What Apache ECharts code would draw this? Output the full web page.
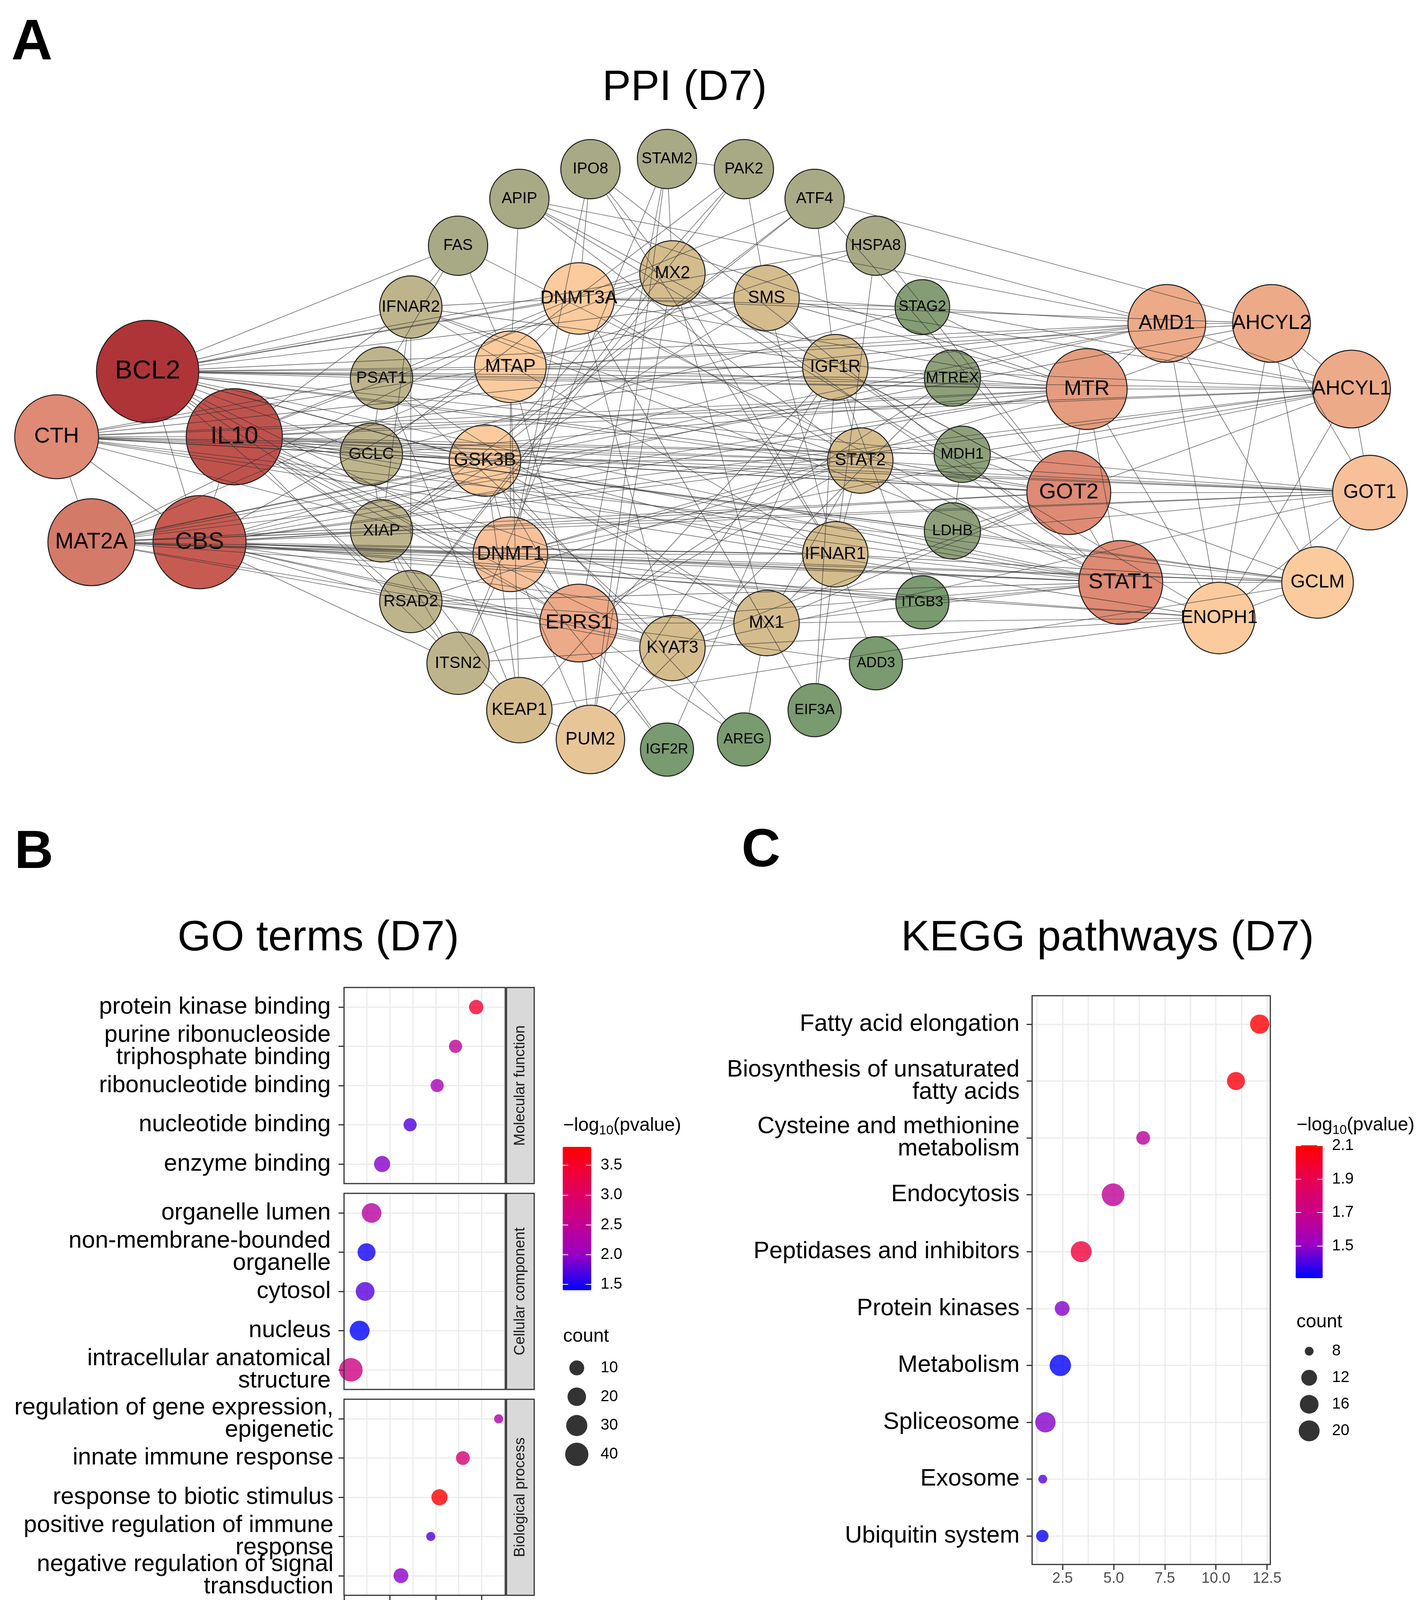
<!DOCTYPE html>
<html>
<head>
<meta charset="utf-8">
<script src="https://cdn.jsdelivr.net/npm/echarts@6/dist/echarts.min.js"></script>
<style>html,body{margin:0;padding:0;background:#fff}#c{width:3644px;height:4179px}</style>
</head>
<body>
<div id="c"></div>
<script>
// ---------------- DATA ----------------
// PPI network (node layout coordinates, node score = hub ranking)
const geneNames = ['BCL2','IL10','CTH','MAT2A','CBS','PSAT1','IFNAR2','FAS','APIP','IPO8','STAM2','PAK2','ATF4','HSPA8','STAG2','MTREX','MDH1','LDHB','ITGB3','ADD3','EIF3A','AREG','IGF2R','PUM2','KEAP1','ITSN2','RSAD2','XIAP','GCLC','MTAP','DNMT3A','MX2','SMS','IGF1R','STAT2','IFNAR1','MX1','KYAT3','EPRS1','DNMT1','GSK3B','AMD1','AHCYL2','AHCYL1','MTR','GOT2','GOT1','STAT1','GCLM','ENOPH1'];
const geneX = [378,600,145,234,511,977,1052,1173,1330,1512,1708,1905,2086,2243,2362,2439,2464,2439,2362,2243,2086,1905,1708,1512,1330,1173,1052,977,951,1307,1482,1722,1963,2139,2203,2139,1963,1722,1482,1307,1242,2988,3256,3461,2783,2737,3508,2870,3374,3122];
const geneY = [951,1118,1118,1388,1388,968,786,629,509,433,407,433,509,629,786,968,1163,1359,1542,1698,1818,1893,1919,1893,1818,1698,1540,1359,1163,939,764,700,763,940,1179,1419,1595,1659,1595,1419,1179,828,828,996,996,1261,1261,1491,1491,1582];
const geneScore = [18,16,12,13,15,5,5,4,4,4,4,4,4,4,2.5,3,3,3,2,2,2,2,2,7,6,5,5,5,5,8,8,6,6,6,6,6,6,6,10,9,8,10,10,10,11,12,9,12,8,8];
const edges = [
['BCL2','IL10'],['BCL2','CBS'],['BCL2','FAS'],['BCL2','IFNAR2'],['BCL2','PSAT1'],['BCL2','DNMT3A'],['BCL2','MTAP'],['BCL2','MX2'],['BCL2','SMS'],['BCL2','IGF1R'],['BCL2','STAT2'],['BCL2','GSK3B'],['BCL2','GCLC'],['BCL2','XIAP'],['BCL2','DNMT1'],['BCL2','EPRS1'],['BCL2','STAT1'],['BCL2','GOT2'],['BCL2','MTR'],['BCL2','AMD1'],['BCL2','AHCYL1'],['BCL2','MDH1'],['BCL2','IFNAR1'],['BCL2','MTREX'],['BCL2','RSAD2'],['BCL2','HSPA8'],
['IL10','CBS'],['IL10','CTH'],['IL10','GCLC'],['IL10','GSK3B'],['IL10','STAT2'],['IL10','STAT1'],['IL10','GOT2'],['IL10','MTR'],['IL10','AHCYL1'],['IL10','GOT1'],['IL10','IFNAR1'],['IL10','IFNAR2'],['IL10','DNMT1'],['IL10','MX1'],['IL10','XIAP'],['IL10','EPRS1'],['IL10','MDH1'],['IL10','LDHB'],['IL10','IGF1R'],['IL10','MX2'],['IL10','KYAT3'],['IL10','ITSN2'],['IL10','PSAT1'],
['CTH','MAT2A'],['CTH','CBS'],['CTH','GCLC'],['CTH','GSK3B'],['CTH','STAT2'],['CTH','MTR'],['CTH','GOT2'],['CTH','GOT1'],['CTH','GCLM'],['CTH','ENOPH1'],['CTH','AHCYL1'],['CTH','AMD1'],['CTH','STAT1'],['CTH','MDH1'],['CTH','DNMT1'],['CTH','MTAP'],['CTH','PSAT1'],
['MAT2A','CBS'],['MAT2A','XIAP'],['MAT2A','DNMT1'],['MAT2A','MTR'],['MAT2A','AHCYL1'],['MAT2A','AHCYL2'],['MAT2A','AMD1'],['MAT2A','GOT2'],['MAT2A','GOT1'],['MAT2A','STAT1'],['MAT2A','ENOPH1'],['MAT2A','GCLM'],['MAT2A','MTAP'],['MAT2A','DNMT3A'],['MAT2A','GSK3B'],['MAT2A','IFNAR1'],['MAT2A','EPRS1'],['MAT2A','KYAT3'],
['CBS','XIAP'],['CBS','DNMT1'],['CBS','EPRS1'],['CBS','STAT1'],['CBS','GOT2'],['CBS','MTR'],['CBS','GCLM'],['CBS','ENOPH1'],['CBS','AHCYL1'],['CBS','AMD1'],['CBS','GOT1'],['CBS','IFNAR1'],['CBS','MX1'],['CBS','GSK3B'],['CBS','MTAP'],['CBS','RSAD2'],['CBS','ITSN2'],['CBS','KYAT3'],['CBS','ITGB3'],['CBS','STAT2'],
['MTR','AMD1'],['MTR','AHCYL2'],['MTR','AHCYL1'],['MTR','GOT2'],['MTR','STAT1'],['MTR','ENOPH1'],['MTR','MTAP'],['MTR','DNMT1'],['MTR','DNMT3A'],['MTR','SMS'],['MTR','MTREX'],['MTR','STAG2'],['MTR','GCLC'],['MTR','PSAT1'],
['GOT2','GOT1'],['GOT2','STAT1'],['GOT2','MDH1'],['GOT2','LDHB'],['GOT2','GCLM'],['GOT2','AHCYL1'],['GOT2','KYAT3'],['GOT2','PSAT1'],['GOT2','GCLC'],['GOT2','IGF1R'],['GOT2','MX1'],
['STAT1','STAT2'],['STAT1','IFNAR1'],['STAT1','IFNAR2'],['STAT1','MX1'],['STAT1','MX2'],['STAT1','RSAD2'],['STAT1','ENOPH1'],['STAT1','GCLM'],['STAT1','GSK3B'],['STAT1','EPRS1'],['STAT1','ITGB3'],['STAT1','DNMT1'],
['AMD1','AHCYL2'],['AMD1','AHCYL1'],['AMD1','SMS'],['AMD1','MTAP'],['AMD1','ENOPH1'],['AMD1','HSPA8'],['AMD1','IGF1R'],['AMD1','GCLM'],
['AHCYL2','AHCYL1'],['AHCYL2','ENOPH1'],['AHCYL2','GOT1'],['AHCYL2','DNMT3A'],['AHCYL2','MTAP'],['AHCYL2','ATF4'],['AHCYL2','GCLM'],
['AHCYL1','GOT1'],['AHCYL1','ENOPH1'],['AHCYL1','DNMT1'],['AHCYL1','IGF1R'],['AHCYL1','MDH1'],['AHCYL1','SMS'],['AHCYL1','STAG2'],
['GOT1','GCLM'],['GOT1','MDH1'],['GOT1','LDHB'],['GOT1','KYAT3'],['GOT1','ENOPH1'],['GOT1','STAT2'],['GOT1','GCLC'],
['GCLM','GCLC'],['GCLM','KEAP1'],['GCLM','ENOPH1'],['GCLM','IFNAR1'],['GCLM','LDHB'],
['ENOPH1','APIP'],['ENOPH1','ADD3'],['ENOPH1','KYAT3'],['ENOPH1','MX1'],
['GSK3B','DNMT1'],['GSK3B','IGF1R'],['GSK3B','XIAP'],['GSK3B','STAT2'],['GSK3B','MX1'],['GSK3B','KEAP1'],['GSK3B','PAK2'],['GSK3B','ATF4'],['GSK3B','EPRS1'],
['DNMT1','DNMT3A'],['DNMT1','MTAP'],['DNMT1','EPRS1'],['DNMT1','PUM2'],['DNMT1','IFNAR1'],['DNMT1','STAT2'],['DNMT1','ITSN2'],['DNMT1','IPO8'],
['DNMT3A','MTAP'],['DNMT3A','MX2'],['DNMT3A','SMS'],['DNMT3A','IPO8'],['DNMT3A','IFNAR2'],['DNMT3A','STAT2'],['DNMT3A','EIF3A'],['DNMT3A','KYAT3'],
['MTAP','SMS'],['MTAP','APIP'],['MTAP','FAS'],['MTAP','IGF1R'],['MTAP','EPRS1'],['MTAP','KEAP1'],
['EPRS1','PUM2'],['EPRS1','KYAT3'],['EPRS1','IGF2R'],['EPRS1','ITSN2'],['EPRS1','RSAD2'],['EPRS1','MX1'],['EPRS1','STAT2'],['EPRS1','AREG'],
['PUM2','KEAP1'],['PUM2','IGF1R'],['PUM2','MX2'],['PUM2','STAM2'],
['MX2','MX1'],['MX2','STAM2'],['MX2','IFNAR1'],['MX2','RSAD2'],['MX2','IPO8'],
['SMS','IGF1R'],['SMS','PAK2'],['SMS','IFNAR1'],['SMS','XIAP'],
['IGF1R','STAT2'],['IGF1R','ATF4'],['IGF1R','ITGB3'],['IGF1R','KEAP1'],['IGF1R','MDH1'],
['STAT2','IFNAR1'],['STAT2','IFNAR2'],['STAT2','MX1'],['STAT2','RSAD2'],['STAT2','LDHB'],
['IFNAR1','IFNAR2'],['IFNAR1','MX1'],['IFNAR1','EIF3A'],['IFNAR1','ADD3'],
['MX1','RSAD2'],['MX1','AREG'],['MX1','PSAT1'],
['KYAT3','PSAT1'],['KYAT3','ITSN2'],
['KEAP1','XIAP'],['KEAP1','ITSN2'],['KEAP1','PSAT1'],
['PSAT1','GCLC'],['PSAT1','FAS'],
['IFNAR2','FAS'],['IFNAR2','RSAD2'],['IFNAR2','XIAP'],
['GCLC','XIAP'],['GCLC','LDHB'],
['XIAP','RSAD2'],['XIAP','ITSN2'],['RSAD2','ITSN2'],
['APIP','MTR'],['APIP','GOT2'],['APIP','AMD1'],['APIP','STAT2'],
['IPO8','STAT1'],['IPO8','IFNAR1'],
['STAM2','PAK2'],['STAM2','EPRS1'],['STAM2','ITSN2'],
['PAK2','RSAD2'],['PAK2','GCLC'],
['ATF4','PSAT1'],['ATF4','XIAP'],['ATF4','GOT2'],
['HSPA8','GOT2'],['HSPA8','MTAP'],['HSPA8','IFNAR1'],
['FAS','STAT1'],
['STAG2','DNMT3A'],['STAG2','GCLC'],
['MTREX','EPRS1'],['MTREX','PUM2'],['MTREX','IFNAR2'],
['MDH1','LDHB'],['ITGB3','DNMT1'],['ADD3','RSAD2'],['EIF3A','IGF1R'],['AREG','GSK3B'],['IGF2R','IGF1R'],['IGF2R','DNMT1']
];

// GO terms (D7)
const goMFTerms = ['protein kinase binding','purine ribonucleoside\ntriphosphate binding','ribonucleotide binding','nucleotide binding','enzyme binding'];
const goMFRatio = [3.88, 3.43, 3.03, 2.44, 1.83];
const goMFLogP  = [3.45, 2.45, 2.17, 1.71, 1.92];
const goMFCount = [9, 7, 7, 7, 13];
const goCCTerms = ['organelle lumen','non-membrane-bounded\norganelle','cytosol','nucleus','intracellular anatomical\nstructure'];
const goCCRatio = [1.60, 1.49, 1.46, 1.34, 1.15];
const goCCLogP  = [2.39, 1.47, 1.74, 1.40, 2.68];
const goCCCount = [24, 18, 21, 25, 41];
const goBPTerms = ['regulation of gene expression,\nepigenetic','innate immune response','response to biotic stimulus','positive regulation of immune\nresponse','negative regulation of signal\ntransduction'];
const goBPRatio = [4.37, 3.59, 3.08, 2.89, 2.24];
const goBPLogP  = [2.29, 2.80, 3.81, 1.71, 1.95];
const goBPCount = [4, 8, 13, 4, 10];
const goFacetNames = ['Molecular function','Cellular component','Biological process'];
const goXTicks = [1, 2, 3, 4];
const goColorTicks = [1.5, 2.0, 2.5, 3.0, 3.5];
const goCountBreaks = [10, 20, 30, 40];

// KEGG pathways (D7)
const keggTerms = ['Fatty acid elongation','Biosynthesis of unsaturated\nfatty acids','Cysteine and methionine\nmetabolism','Endocytosis','Peptidases and inhibitors','Protein kinases','Metabolism','Spliceosome','Exosome','Ubiquitin system'];
const keggRatio = [12.14, 10.98, 6.44, 4.97, 3.41, 2.48, 2.39, 1.66, 1.53, 1.51];
const keggLogP  = [2.10, 2.07, 1.64, 1.66, 1.96, 1.48, 1.31, 1.48, 1.42, 1.32];
const keggCount = [17, 15, 10, 24, 20, 11, 21, 19, 8, 9];
const keggXTicks = [2.5, 5.0, 7.5, 10.0, 12.5];
const keggColorTicks = [1.5, 1.7, 1.9, 2.1];
const keggCountBreaks = [8, 12, 16, 20];

// ---------------- STYLE / SCALES ----------------
const FONT = "'Liberation Sans', Arial, Helvetica, sans-serif";
const nodeColorScale = ['#7A9A70','#8EA07A','#A8AA86','#BEB48C','#D5BC8D','#E8C597','#FBCB9D','#F7C099','#EDAA88','#E59C7F','#DE8A74','#D47A68','#CD6A5D','#C75B51','#C0524C','#B74341','#AE3438'];
const pGradient = ['#0000FF','#9A00C3','#C90088','#E8004F','#FF0000'];
function nodeDiameter(s) { return 136 + (s - 2) * 7.875; }
function goSize(c) { return 23.2 + 6.06 * Math.sqrt(Math.max(c - 4, 0)); }
function keggSize(c) { return 22.5 + 8.95 * Math.sqrt(Math.max(c - 8, 0)); }

const chart = echarts.init(document.getElementById('c'), null, {renderer: 'canvas', width: 3644, height: 4179});

// network
const nMinX = Math.min(...geneX), nMaxX = Math.max(...geneX);
const nMinY = Math.min(...geneY), nMaxY = Math.max(...geneY);
const netBox = {left: nMinX, top: nMinY, width: nMaxX - nMinX, height: nMaxY - nMinY};
const nodeData = geneNames.map((n, i) => ({
  name: n, x: geneX[i], y: geneY[i], value: geneScore[i],
  label: {fontSize: Math.round(0.24 * nodeDiameter(geneScore[i]) + 4)}
}));
const edgeNodeData = geneNames.map((n, i) => ({name: n, x: geneX[i], y: geneY[i], value: geneScore[i]}));
const linkData = edges.map(e => ({source: e[0], target: e[1]}));

// GO facets
const goFacets = [
  {terms: goMFTerms, ratio: goMFRatio, logp: goMFLogP, count: goMFCount, top: 2528},
  {terms: goCCTerms, ratio: goCCRatio, logp: goCCLogP, count: goCCCount, top: 3055},
  {terms: goBPTerms, ratio: goBPRatio, logp: goBPLogP, count: goBPCount, top: 3582}
];
const GO_LEFT = 881, GO_W = 413, GO_H = 502, GO_XMAX = 4.515;
const goGridLines = [];
for (let v = 1.5; v <= GO_XMAX; v += 0.5) goGridLines.push(v);
const KEGG_XMIN = 1.01, KEGG_XMAX = 12.66;
const keggGridLines = [];
for (let v = 1.25; v <= KEGG_XMAX; v += 1.25) keggGridLines.push(v);

const gridLineStyle = {color: '#EBEBEB', width: 3, type: 'solid'};
function markLines(xs, n) {
  return {
    silent: true, symbol: ['none', 'none'], z: 1, animation: false,
    label: {show: false}, lineStyle: gridLineStyle, emphasis: {disabled: true},
    data: xs.map(v => ({xAxis: v})).concat(Array.from({length: n}, (_, i) => ({yAxis: i})))
  };
}

const grids = [], xAxes = [], yAxes = [], series = [];

// series 0 & 1 : network
series.push({
  type: 'graph', layout: 'none', roam: false, ...netBox,
  data: nodeData, links: [], symbol: 'circle',
  symbolSize: v => nodeDiameter(v),
  itemStyle: {borderColor: '#1a1a1a', borderWidth: 2.5},
  label: {show: true, position: 'inside', color: '#000', fontFamily: FONT},
  emphasis: {disabled: true}, silent: true, z: 2
});
series.push({
  type: 'graph', layout: 'none', roam: false, ...netBox,
  data: edgeNodeData, links: linkData, symbol: 'circle',
  symbolSize: v => nodeDiameter(v),
  itemStyle: {opacity: 0}, label: {show: false},
  edgeSymbol: ['circle', 'circle'], edgeSymbolSize: 0.01,
  lineStyle: {color: '#333333', width: 1.6, opacity: 0.72, curveness: 0},
  emphasis: {disabled: true}, silent: true, z: 3
});

// GO grids 0..2
goFacets.forEach((f, k) => {
  grids.push({left: GO_LEFT, top: f.top, width: GO_W, height: GO_H, show: true, borderColor: '#333333', borderWidth: 3, backgroundColor: 'transparent', z: 4});
  const bottom = k === 2;
  xAxes.push({
    gridIndex: k, type: 'value', min: 1, max: GO_XMAX,
    axisLine: {show: false}, splitLine: {show: false},
    axisTick: {show: bottom, customValues: goXTicks, length: 14, lineStyle: {color: '#333333', width: 3}},
    axisLabel: {show: bottom, customValues: goXTicks, fontSize: 38, color: '#4D4D4D', margin: 18, fontFamily: FONT, formatter: v => String(v)}
  });
  yAxes.push({
    gridIndex: k, type: 'category', data: f.terms, inverse: true, boundaryGap: true,
    axisLine: {show: false}, splitLine: {show: false},
    axisTick: {show: true, alignWithLabel: true, length: 14, lineStyle: {color: '#333333', width: 3}},
    axisLabel: {interval: 0, fontSize: 61, color: '#000', margin: k === 2 ? 27 : 34, lineHeight: 57, fontFamily: FONT}
  });
});
// KEGG grid 3
grids.push({left: 2643, top: 2549, width: 610, height: 1456, show: true, borderColor: '#333333', borderWidth: 3, backgroundColor: 'transparent', z: 4});
xAxes.push({
  gridIndex: 3, type: 'value', min: KEGG_XMIN, max: KEGG_XMAX,
  axisLine: {show: false}, splitLine: {show: false},
  axisTick: {show: true, customValues: keggXTicks, length: 14, lineStyle: {color: '#333333', width: 3}},
  axisLabel: {show: true, customValues: keggXTicks, fontSize: 38, color: '#4D4D4D', margin: 18, fontFamily: FONT, formatter: v => v.toFixed(1)}
});
yAxes.push({
  gridIndex: 3, type: 'category', data: keggTerms, inverse: true, boundaryGap: true,
  axisLine: {show: false}, splitLine: {show: false},
  axisTick: {show: true, alignWithLabel: true, length: 14, lineStyle: {color: '#333333', width: 3}},
  axisLabel: {interval: 0, fontSize: 61, color: '#000', margin: 32, lineHeight: 57, fontFamily: FONT}
});
// colorbar grids 4 (GO) and 5 (KEGG)
const cbDefs = [
  {left: 1441, top: 2936, width: 73, height: 367, min: 1.40, max: 3.81, ticks: goColorTicks},
  {left: 3318, top: 2932, width: 69, height: 340, min: 1.308, max: 2.102, ticks: keggColorTicks}
];
cbDefs.forEach((c, j) => {
  const gi = 4 + j;
  grids.push({left: c.left, top: c.top, width: c.width, height: c.height, show: false});
  xAxes.push({gridIndex: gi, type: 'value', show: false, min: 0, max: 1});
  const tickStyle = {show: true, inside: true, length: 14, customValues: c.ticks, lineStyle: {color: '#ffffff', width: 2}};
  yAxes.push({gridIndex: gi, type: 'value', position: 'left', min: c.min, max: c.max, z: 10,
    axisLine: {show: false}, splitLine: {show: false}, axisTick: tickStyle, axisLabel: {show: false}});
  yAxes.push({gridIndex: gi, type: 'value', position: 'right', min: c.min, max: c.max, z: 10,
    axisLine: {show: false}, splitLine: {show: false}, axisTick: tickStyle,
    axisLabel: {show: true, customValues: c.ticks, fontSize: 40, color: '#000', margin: 24, fontFamily: FONT, formatter: v => v.toFixed(1)}});
});
// count legend grids 6 (GO) and 7 (KEGG)
const cntDefs = [
  {left: 1440, top: 3465, width: 74, height: 295, breaks: goCountBreaks},
  {left: 3318, top: 3425, width: 69, height: 272, breaks: keggCountBreaks}
];
cntDefs.forEach((c, j) => {
  const gi = 6 + j;
  grids.push({left: c.left, top: c.top, width: c.width, height: c.height, show: false});
  xAxes.push({gridIndex: gi, type: 'value', show: false, min: -1, max: 1});
  yAxes.push({gridIndex: gi, type: 'category', data: c.breaks.map(String), inverse: true, position: 'right',
    axisLine: {show: false}, axisTick: {show: false}, splitLine: {show: false},
    axisLabel: {interval: 0, fontSize: 40, color: '#000', margin: 24, fontFamily: FONT}});
});

// series 2..4 : GO scatter
goFacets.forEach((f, k) => {
  series.push({
    type: 'scatter', xAxisIndex: k, yAxisIndex: k, z: 3, silent: true,
    data: f.terms.map((t, i) => [f.ratio[i], i, f.logp[i], f.count[i]]),
    symbolSize: v => goSize(v[3]),
    markLine: markLines(goGridLines, f.terms.length)
  });
});
// series 5 : KEGG scatter
series.push({
  type: 'scatter', xAxisIndex: 3, yAxisIndex: 3, z: 3, silent: true,
  data: keggTerms.map((t, i) => [keggRatio[i], i, keggLogP[i], keggCount[i]]),
  symbolSize: v => keggSize(v[3]),
  markLine: markLines(keggGridLines, keggTerms.length)
});
// series 6, 7 : size legends
series.push({
  type: 'scatter', xAxisIndex: 6, yAxisIndex: 8, silent: true,
  data: goCountBreaks.map((c, i) => [0, i, c]), symbolSize: v => goSize(v[2]),
  itemStyle: {color: '#000'}
});
series.push({
  type: 'scatter', xAxisIndex: 7, yAxisIndex: 9, silent: true,
  data: keggCountBreaks.map((c, i) => [0, i, c]), symbolSize: v => keggSize(v[2]),
  itemStyle: {color: '#000'}
});

// graphic texts
const graphics = [];
function txt(x, y, text, size, opts) {
  graphics.push(Object.assign({type: 'text', x: x, y: y, silent: true,
    style: Object.assign({text: text, fontSize: size, fontFamily: FONT, fill: '#000', align: 'left', verticalAlign: 'middle'}, (opts && opts.style) || {})},
    opts && opts.el ? opts.el : {}));
}
txt(29, 112, 'A', 146, {style: {fontWeight: 'bold'}});
txt(37, 2184, 'B', 138, {style: {fontWeight: 'bold'}});
txt(1899, 2180, 'C', 138, {style: {fontWeight: 'bold'}});
txt(1753, 226, 'PPI (D7)', 110, {style: {align: 'center'}});
txt(815, 2403, 'GO terms (D7)', 110, {style: {align: 'center'}});
txt(2836, 2403, 'KEGG pathways (D7)', 110, {style: {align: 'center'}});
// strips
goFacets.forEach((f, k) => {
  graphics.push({type: 'rect', silent: true, z: 5, shape: {x: 1297, y: f.top, width: 71, height: GO_H},
    style: {fill: '#D9D9D9', stroke: '#333333', lineWidth: 3}});
  graphics.push({type: 'text', silent: true, z: 6, x: 1333, y: f.top + GO_H / 2, rotation: Math.PI / 2,
    style: {text: goFacetNames[k], fontSize: 38, fontFamily: FONT, fill: '#1A1A1A', align: 'center', verticalAlign: 'middle'}});
});
// legend titles
const legTitleRich = {
  a: {fontSize: 48, fontFamily: FONT, fill: '#000', lineHeight: 58, verticalAlign: 'middle'},
  b: {fontSize: 33, fontFamily: FONT, fill: '#000', lineHeight: 33, verticalAlign: 'bottom'}
};
[[1442, 2882], [3320, 2881]].forEach(p => {
  graphics.push({type: 'text', silent: true, x: p[0], y: p[1],
    style: {text: '{a|\u2212log}{b|10}{a|(pvalue)}', rich: legTitleRich, align: 'left', verticalAlign: 'middle'}});
});
txt(1442, 3422, 'count', 48);
txt(3320, 3385, 'count', 48);

const option = {
  backgroundColor: '#ffffff',
  animation: false,
  textStyle: {fontFamily: FONT},
  grid: grids,
  xAxis: xAxes,
  yAxis: yAxes,
  visualMap: [
    {type: 'continuous', show: false, seriesIndex: 0, min: 2, max: 18, inRange: {color: nodeColorScale}},
    {type: 'continuous', show: true, seriesIndex: [2, 3, 4], dimension: 2, min: 1.40, max: 3.81,
     inRange: {color: pGradient}, calculable: false, hoverLink: false, left: 1441, top: 2936,
     itemWidth: 73, itemHeight: 367, padding: 0, text: null},
    {type: 'continuous', show: true, seriesIndex: 5, dimension: 2, min: 1.308, max: 2.102,
     inRange: {color: pGradient}, calculable: false, hoverLink: false, left: 3318, top: 2932,
     itemWidth: 69, itemHeight: 340, padding: 0, text: null}
  ],
  graphic: graphics,
  series: series
};
chart.setOption(option);
</script>
</body>
</html>
